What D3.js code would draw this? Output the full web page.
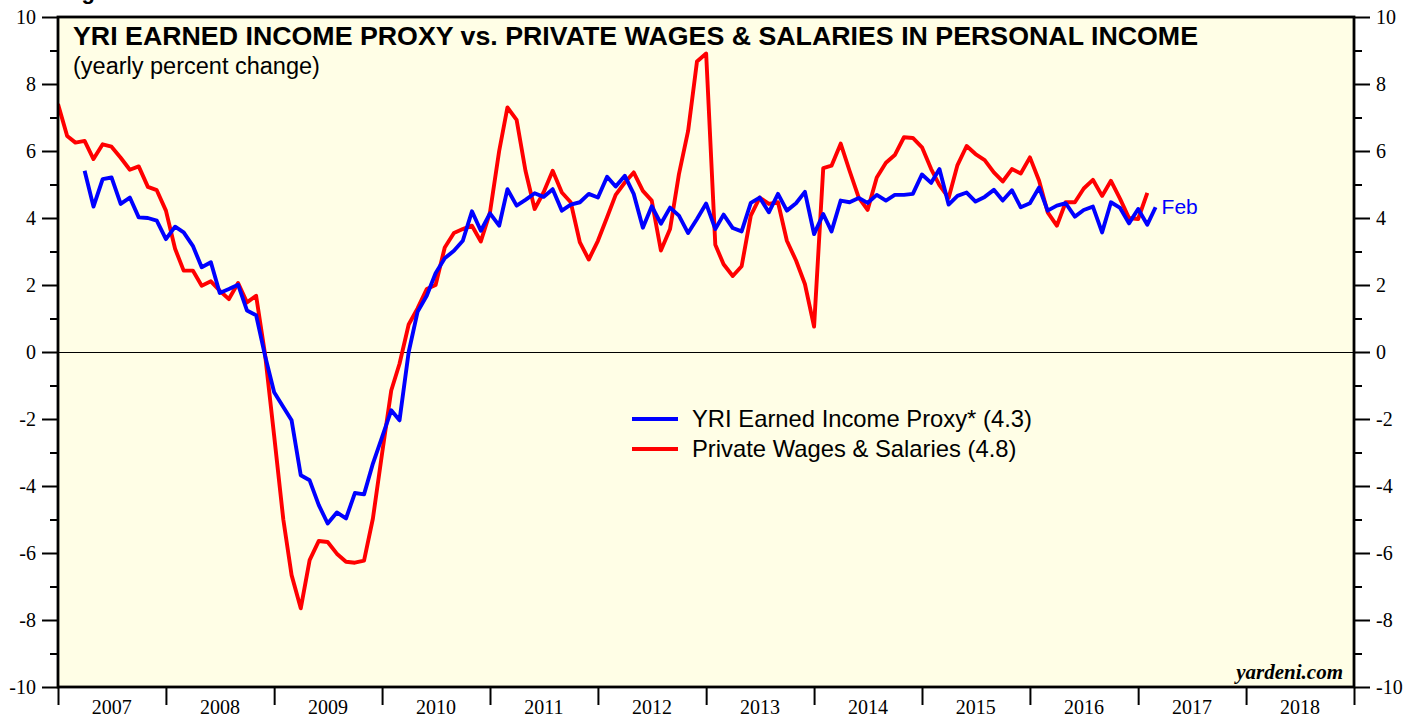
<html>
<head>
    <meta charset="utf-8">
    <title>YRI Earned Income Proxy vs Private Wages & Salaries</title>
    <style type="text/css">
        body { margin: 0; background: #ffffff; }
        .series { fill: none; stroke-width: 3.9; stroke-linejoin: round; }
        .axis text { font-family: "Liberation Serif", "Times New Roman", serif; font-size: 20px; fill: #000; }
    </style>
</head>
<body>
<script src="https://d3js.org/d3.v7.min.js"></script>
<script>

// yearly percent change, monthly. red starts Dec 2006, blue starts Mar 2007
var wagesStart = [2006, 11];
var wages = [
    7.40,
    6.45, 6.25, 6.30, 5.76, 6.20, 6.13, 5.80, 5.44, 5.54, 4.93, 4.83, 4.22,
    3.08, 2.43, 2.43, 1.98, 2.11, 1.83, 1.58, 2.06, 1.48, 1.68, -0.05, -2.50,
    -5.00, -6.66, -7.65, -6.21, -5.64, -5.67, -6.02, -6.26, -6.29, -6.23, -4.97, -3.03,
    -1.15, -0.35, 0.82, 1.30, 1.88, 2.00, 3.12, 3.55, 3.67, 3.77, 3.30, 4.17,
    6.00, 7.30, 6.93, 5.41, 4.27, 4.76, 5.41, 4.76, 4.47, 3.27, 2.76, 3.32,
    4.02, 4.69, 5.06, 5.36, 4.81, 4.52, 3.03, 3.67, 5.31, 6.60, 8.67, 8.91,
    3.20, 2.62, 2.27, 2.56, 4.07, 4.61, 4.42, 4.47, 3.32, 2.73, 2.03, 0.76,
    5.49, 5.56, 6.22, 5.41, 4.61, 4.24, 5.21, 5.65, 5.88, 6.41, 6.39, 6.11,
    5.46, 4.98, 4.60, 5.58, 6.15, 5.91, 5.73, 5.36, 5.09, 5.46, 5.33, 5.81,
    5.11, 4.17, 3.77, 4.47, 4.47, 4.88, 5.14, 4.66, 5.11, 4.57, 4.00, 3.97,
    4.75
];

var proxyStart = [2007, 2];
var proxy = [
    5.41, 4.34, 5.16, 5.21, 4.42, 4.61, 4.02, 4.00, 3.92, 3.37,
    3.74, 3.57, 3.17, 2.53, 2.68, 1.76, 1.88, 2.01, 1.24, 1.10, -0.10, -1.20,
    -1.64, -2.04, -3.68, -3.83, -4.57, -5.12, -4.79, -4.97, -4.21, -4.25, -3.33, -2.54,
    -1.74, -2.04, 0.00, 1.20, 1.68, 2.35, 2.80, 3.02, 3.32, 4.20, 3.62, 4.14,
    3.77, 4.86, 4.37, 4.54, 4.74, 4.63, 4.86, 4.22, 4.40, 4.47, 4.72, 4.61,
    5.23, 4.94, 5.26, 4.72, 3.71, 4.35, 3.83, 4.31, 4.07, 3.55, 3.97, 4.43,
    3.67, 4.10, 3.70, 3.60, 4.45, 4.61, 4.17, 4.72, 4.22, 4.44, 4.78, 3.52,
    4.12, 3.60, 4.52, 4.47, 4.60, 4.45, 4.69, 4.52, 4.69, 4.69, 4.72, 5.30,
    5.05, 5.46, 4.40, 4.66, 4.76, 4.49, 4.63, 4.84, 4.52, 4.83, 4.32, 4.44,
    4.91, 4.22, 4.37, 4.44, 4.04, 4.24, 4.34, 3.57, 4.47, 4.30, 3.84, 4.27,
    3.80, 4.32
];

var years = d3.range(2007, 2019);
var yTicks = d3.range(-10, 11, 2);
var yMinor = d3.range(-9, 10, 2);

var legendLabels = ["YRI Earned Income Proxy* (4.3)", "Private Wages & Salaries (4.8)"];
var title = "YRI EARNED INCOME PROXY vs. PRIVATE WAGES & SALARIES IN PERSONAL INCOME";
var subtitle = "(yearly percent change)";

var W = 1421, H = 721;
var margin = {top: 17, right: 67, bottom: 34, left: 58},
    width  = W - margin.left - margin.right,
    height = H - margin.top - margin.bottom;

var svg = d3.select("body")
    .append("svg")
    .attr("width", W)
    .attr("height", H);

// points plotted at month end
function toPoints(start, vals) {
    return vals.map(function(v, i) {
        return {date: new Date(start[0], start[1] + i + 1, 1), value: v};
    });
}
var wagesData = toPoints(wagesStart, wages);
var proxyData = toPoints(proxyStart, proxy);

var xScale = d3.scaleTime()
    .domain([new Date(2007, 0, 1), new Date(2019, 0, 1)])
    .range([0, width]);

var yScale = d3.scaleLinear()
    .domain([-10, 10])
    .range([height, 0]);

// plain hyphen for negatives, like the original
var fmt = function(d){ return String(d); };

// cut-off figure heading above the chart (only its bottom shows)
svg.append("text")
    .attr("x", 62)
    .attr("y", -1)
    .text("Figure 3")
    .style("font-family", "Liberation Sans, Arial, sans-serif")
    .style("font-weight", "bold")
    .style("font-size", "22px");

var chart = svg.append("g")
    .attr("transform", "translate(" + margin.left + "," + margin.top + ")");

chart.append("rect")
    .attr("width", width)
    .attr("height", height)
    .attr("fill", "#fffee6");

chart.append("clipPath")
    .attr("id", "clip")
    .append("rect")
    .attr("width", width)
    .attr("height", height);

// zero line
chart.append("line")
    .attr("x1", 0).attr("x2", width)
    .attr("y1", yScale(0)).attr("y2", yScale(0))
    .attr("stroke", "#000")
    .attr("stroke-width", 1)
    .attr("shape-rendering", "crispEdges");

var line = d3.line()
    .x(function(d){ return xScale(d.date); })
    .y(function(d){ return yScale(d.value); });

chart.append("path")
    .datum(wagesData)
    .attr("class", "series")
    .attr("clip-path", "url(#clip)")
    .attr("stroke", "#ff0000")
    .attr("d", line);

chart.append("path")
    .datum(proxyData)
    .attr("class", "series")
    .attr("clip-path", "url(#clip)")
    .attr("stroke", "#0000ff")
    .attr("d", line);

// y axes, left and right
chart.append("g").attr("class", "axis")
    .call(d3.axisLeft(yScale).tickValues(yTicks).tickSize(16).tickPadding(6).tickFormat(fmt));
chart.append("g").attr("class", "axis")
    .attr("transform", "translate(" + width + ",0)")
    .call(d3.axisRight(yScale).tickValues(yTicks).tickSize(16).tickPadding(6).tickFormat(fmt));

chart.append("g").attr("class", "axis")
    .call(d3.axisLeft(yScale).tickValues(yMinor).tickSize(8).tickFormat(""));
chart.append("g").attr("class", "axis")
    .attr("transform", "translate(" + width + ",0)")
    .call(d3.axisRight(yScale).tickValues(yMinor).tickSize(8).tickFormat(""));

// x axis: year boundaries as ticks, labels centred in each year
chart.append("g").attr("class", "axis")
    .attr("transform", "translate(0," + height + ")")
    .call(d3.axisBottom(xScale)
        .tickValues(years.map(function(y){ return new Date(y, 0, 1); }).concat([new Date(2019, 0, 1)]))
        .tickSize(18)
        .tickFormat(""));

chart.append("g")
    .selectAll("text")
    .data(years)
    .enter()
    .append("text")
    .attr("x", function(d){ return xScale(new Date(d, 6, 2)); })
    .attr("y", height + 27)
    .attr("text-anchor", "middle")
    .text(function(d){ return d; })
    .style("font-family", "Liberation Serif, Times New Roman, serif")
    .style("font-size", "20px");

chart.selectAll(".axis path.domain").remove();
chart.selectAll(".axis line").attr("stroke", "#000").attr("stroke-width", 2);

// frame
chart.append("rect")
    .attr("width", width)
    .attr("height", height)
    .attr("fill", "none")
    .attr("stroke", "#000")
    .attr("stroke-width", 2.8);

// title
chart.append("text")
    .attr("x", 15)
    .attr("y", 28)
    .attr("textLength", 1125)
    .attr("lengthAdjust", "spacingAndGlyphs")
    .text(title)
    .style("font-family", "Liberation Sans, Arial, sans-serif")
    .style("font-weight", "bold")
    .style("font-size", "25px");

chart.append("text")
    .attr("x", 15)
    .attr("y", 57)
    .text(subtitle)
    .style("font-family", "Liberation Sans, Arial, sans-serif")
    .style("font-size", "23.5px");

// legend
var legendColors = ["#0000ff", "#ff0000"];
var legend = chart.append("g")
    .attr("transform", "translate(574,402)");
legendLabels.forEach(function(lbl, i) {
    legend.append("line")
        .attr("x1", 0).attr("x2", 46)
        .attr("y1", i * 30).attr("y2", i * 30)
        .attr("stroke", legendColors[i])
        .attr("stroke-width", 3.9);
    legend.append("text")
        .attr("x", 60)
        .attr("y", i * 30 + 8)
        .text(lbl)
        .style("font-family", "Liberation Sans, Arial, sans-serif")
        .style("font-size", "23.8px");
});

// last month label
var lastProxy = proxyData[proxyData.length - 1];
chart.append("text")
    .attr("x", xScale(lastProxy.date) + 6)
    .attr("y", yScale(lastProxy.value) + 7)
    .text("Feb")
    .attr("fill", "#0000ff")
    .style("font-family", "Liberation Sans, Arial, sans-serif")
    .style("font-size", "21px");

chart.append("text")
    .attr("x", width - 11)
    .attr("y", height - 8)
    .attr("text-anchor", "end")
    .text("yardeni.com")
    .style("font-family", "Liberation Serif, Times New Roman, serif")
    .style("font-weight", "bold")
    .style("font-style", "italic")
    .style("font-size", "21px");

</script>
</body>
</html>
